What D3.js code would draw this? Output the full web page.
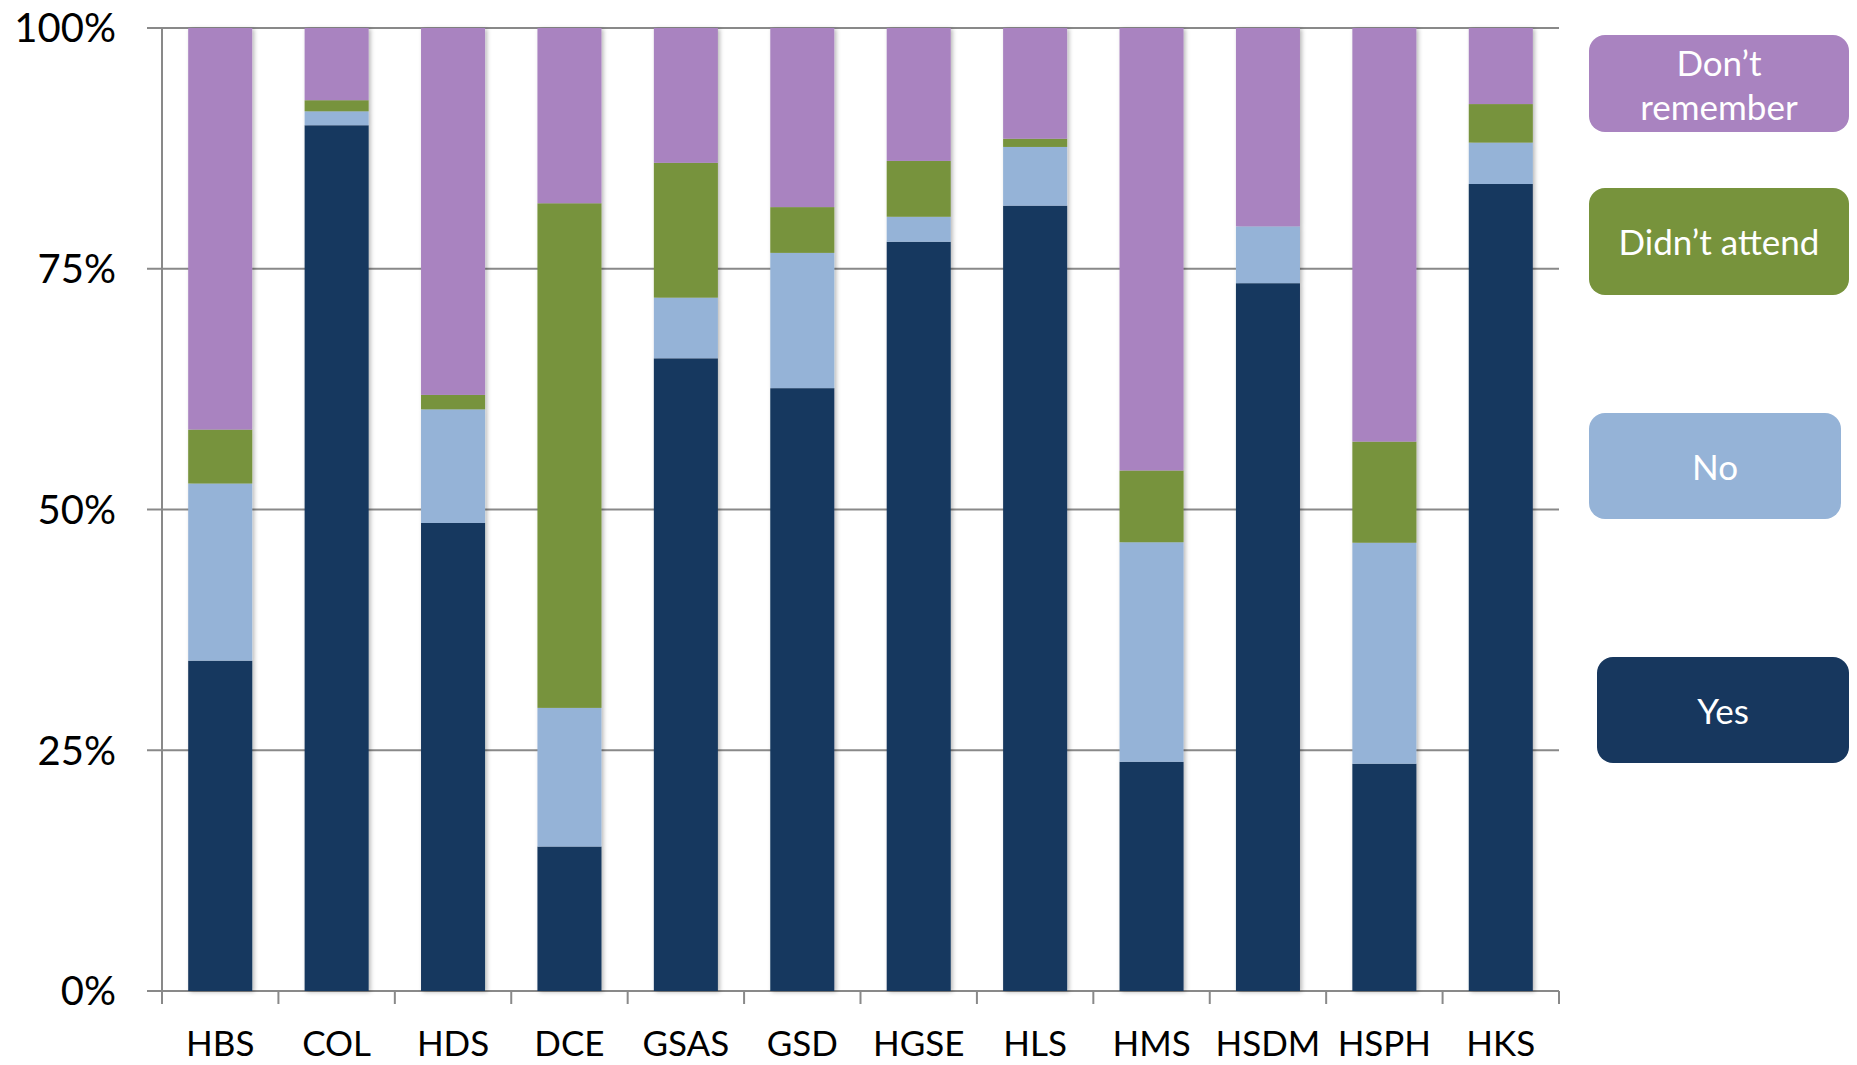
<!DOCTYPE html>
<html>
<head>
<meta charset="utf-8">
<script src="https://cdn.jsdelivr.net/npm/d3@7"></script>
<style>
  html, body { margin: 0; padding: 0; background: #fff; overflow: hidden; }
  svg { display: block; }
</style>
</head>
<body>
<svg id="chart" width="1857" height="1065"></svg>
<script>
// ---- data ----
const categories = ["HBS","COL","HDS","DCE","GSAS","GSD","HGSE","HLS","HMS","HSDM","HSPH","HKS"];
const yesValues          = [34.3, 89.9, 48.6, 15.0, 65.7, 62.6, 77.8, 81.55, 23.8, 73.5, 23.6, 83.8];
const noValues           = [18.4,  1.45, 11.8, 14.4,  6.3, 14.05,  2.6,  6.1, 22.8,  5.9, 22.95,  4.3];
const didntAttendValues  = [ 5.6,  1.15,  1.5, 52.4, 14.0,  4.75,  5.8,  0.85,  7.45,  0.0, 10.5,  4.0];
const dontRememberValues = [41.7,  7.5, 38.1, 18.2, 14.0, 18.6, 13.8, 11.5, 45.95, 20.6, 42.95,  7.9];
const seriesNames = ["Yes", "No", "Didn’t attend", "Don’t remember"];
const seriesColors = ["#17375E", "#95B3D7", "#77933C", "#A983C0"];
const yTickValues = [0, 25, 50, 75, 100];
const yTickLabels = ["0%", "25%", "50%", "75%", "100%"];

// ---- layout ----
const svg = d3.select("#chart");
const plot = { left: 162, right: 1559, top: 28, bottom: 991 };
const FONT = "Lato, 'Open Sans', sans-serif";
const gridColor = "#898989";

const rows = categories.map((c, i) => ({
  cat: c,
  "Yes": yesValues[i],
  "No": noValues[i],
  "Didn’t attend": didntAttendValues[i],
  "Don’t remember": dontRememberValues[i]
}));
const stacked = d3.stack().keys(seriesNames).offset(d3.stackOffsetExpand)(rows);

const x = d3.scaleBand().domain(categories).range([plot.left, plot.right]).paddingInner(0.45).paddingOuter(0.225);
const xOuter = d3.scaleBand().domain(categories).range([plot.left, plot.right]);
const y = d3.scaleLinear().domain([0, 100]).range([plot.bottom, plot.top]);

const defs = svg.append("defs");
const f = defs.append("filter").attr("id", "shadow").attr("x", "-20%").attr("y", "-5%").attr("width", "140%").attr("height", "110%");
f.append("feDropShadow").attr("dx", 2).attr("dy", 1).attr("stdDeviation", 2).attr("flood-color", "#000").attr("flood-opacity", 0.28);

// gridlines
svg.append("g").selectAll("line").data(yTickValues).join("line")
  .attr("x1", plot.left - 15).attr("x2", plot.right)
  .attr("y1", d => y(d)).attr("y2", d => y(d))
  .attr("stroke", gridColor).attr("stroke-width", 2);

// bars
const gBars = svg.append("g").attr("filter", "url(#shadow)");
stacked.forEach((s, si) => {
  gBars.append("g").attr("fill", seriesColors[si])
    .selectAll("rect").data(s).join("rect")
    .attr("x", d => x(d.data.cat))
    .attr("width", x.bandwidth())
    .attr("y", d => y(d[1] * 100))
    .attr("height", d => Math.max(0, y(d[0] * 100) - y(d[1] * 100)));
});

// y axis line
svg.append("line").attr("x1", plot.left).attr("x2", plot.left)
  .attr("y1", plot.top).attr("y2", plot.bottom)
  .attr("stroke", gridColor).attr("stroke-width", 2);

// y labels
svg.append("g").selectAll("text").data(yTickValues).join("text")
  .attr("x", 116).attr("y", d => y(d))
  .attr("dy", "0.36em")
  .attr("text-anchor", "end")
  .attr("font-family", FONT).attr("font-size", 40).attr("fill", "#000")
  .text((d, i) => yTickLabels[i]);

// x axis ticks (band boundaries)
const boundaries = categories.map(c => xOuter(c)).concat([plot.right]);
svg.append("g").selectAll("line").data(boundaries).join("line")
  .attr("x1", d => d).attr("x2", d => d)
  .attr("y1", plot.bottom).attr("y2", plot.bottom + 13)
  .attr("stroke", gridColor).attr("stroke-width", 2);

// x labels
svg.append("g").selectAll("text").data(categories).join("text")
  .attr("x", d => xOuter(d) + xOuter.bandwidth() / 2)
  .attr("y", 1056)
  .attr("text-anchor", "middle")
  .attr("font-family", FONT).attr("font-size", 35).attr("fill", "#000")
  .text(d => d);

// legend (boxes, as in the reference)
const legendBoxes = [
  { i: 3, x0: 1589, x1: 1849, y0: 35,  y1: 132, lines: ["Don’t", "remember"], ly: [63, 107] },
  { i: 2, x0: 1589, x1: 1849, y0: 188, y1: 295, lines: ["Didn’t attend"], ly: [242] },
  { i: 1, x0: 1589, x1: 1841, y0: 413, y1: 519, lines: ["No"], ly: [467] },
  { i: 0, x0: 1597, x1: 1849, y0: 657, y1: 763, lines: ["Yes"], ly: [711] }
];
const gLeg = svg.append("g");
legendBoxes.forEach(b => {
  gLeg.append("rect")
    .attr("x", b.x0).attr("y", b.y0)
    .attr("width", b.x1 - b.x0).attr("height", b.y1 - b.y0)
    .attr("rx", 16).attr("ry", 16)
    .attr("fill", seriesColors[b.i]);
  b.lines.forEach((t, k) => {
    gLeg.append("text")
      .attr("x", (b.x0 + b.x1) / 2).attr("y", b.ly[k]).attr("dy", "0.36em")
      .attr("text-anchor", "middle")
      .attr("font-family", FONT).attr("font-size", 35).attr("fill", "#fff")
      .text(t);
  });
});
</script>
</body>
</html>
